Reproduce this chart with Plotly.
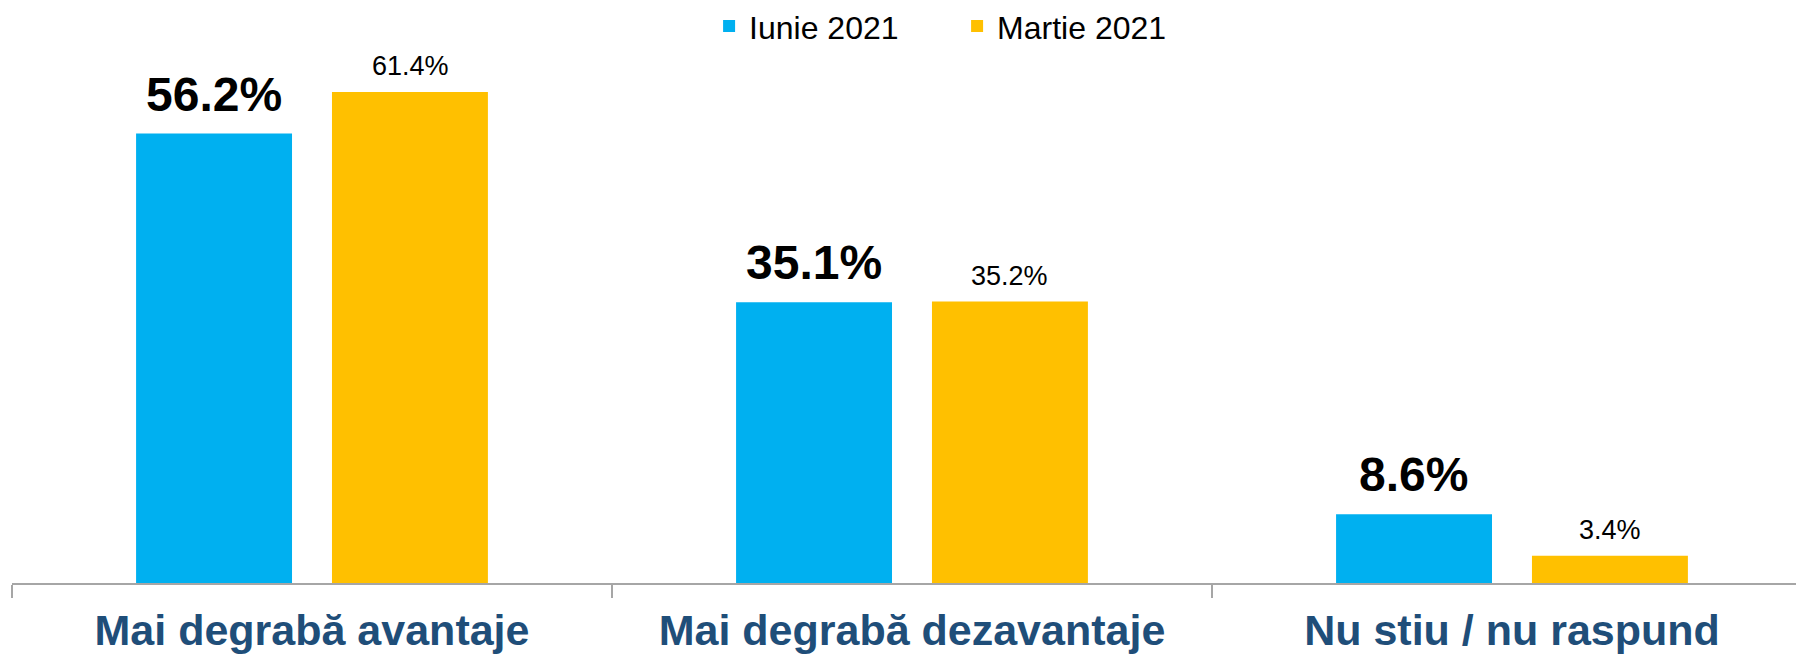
import plotly.graph_objects as go

categories = ["Mai degrabă avantaje", "Mai degrabă dezavantaje", "Nu stiu / nu raspund"]
iunie_2021 = [56.2, 35.1, 8.6]
martie_2021 = [61.4, 35.2, 3.4]
series_names = ["Iunie 2021", "Martie 2021"]

BLUE = "#00B0F0"
YELLOW = "#FFC000"

fig = go.Figure()
fig.add_trace(go.Bar(x=categories, y=iunie_2021, name=series_names[0],
                     marker=dict(color=BLUE, line=dict(width=0))))
fig.add_trace(go.Bar(x=categories, y=martie_2021, name=series_names[1],
                     marker=dict(color=YELLOW, line=dict(width=0))))

annotations = []
for c, v in zip(categories, iunie_2021):
    annotations.append(dict(x=c, y=v, xref="x", yref="y", text=f"{v:.1f}%",
                            showarrow=False, xshift=-98, yanchor="bottom", yshift=11,
                            font=dict(family="Liberation Sans, Arial", size=48, color="black",
                                      weight="bold")))
for c, v in zip(categories, martie_2021):
    annotations.append(dict(x=c, y=v, xref="x", yref="y", text=f"{v:.1f}%",
                            showarrow=False, xshift=98, yanchor="bottom", yshift=9,
                            font=dict(family="Liberation Sans, Arial", size=27, color="black")))

fig.update_layout(
    width=1796, height=647,
    margin=dict(l=4, r=0, t=0, b=72, autoexpand=False),
    paper_bgcolor="white", plot_bgcolor="white",
    barmode="group", bargap=0.347, bargroupgap=0.204,
    showlegend=True,
    legend=dict(orientation="h", x=0.389, xanchor="left", y=1.016, yanchor="top",
                font=dict(family="Liberation Sans, Arial", size=32, color="black"),
                entrywidth=203, entrywidthmode="pixels", itemsizing="constant",
                bgcolor="rgba(0,0,0,0)"),
    annotations=annotations,
    xaxis=dict(range=[-0.5, 2.4867], showline=True, linecolor="#A6A6A6", linewidth=2,
               ticks="outside", tickson="boundaries", ticklen=13, tickcolor="#A6A6A6",
               tickwidth=2, tickangle=0, automargin=False, ticklabelstandoff=8,
               tickfont=dict(family="Liberation Sans, Arial", size=43, color="#1F4E79",
                             weight="bold"),
               showgrid=False, zeroline=False),
    yaxis=dict(range=[0, 71.9], visible=False, showgrid=False, zeroline=False,
               automargin=False),
)

fig.write_html("out.html")
